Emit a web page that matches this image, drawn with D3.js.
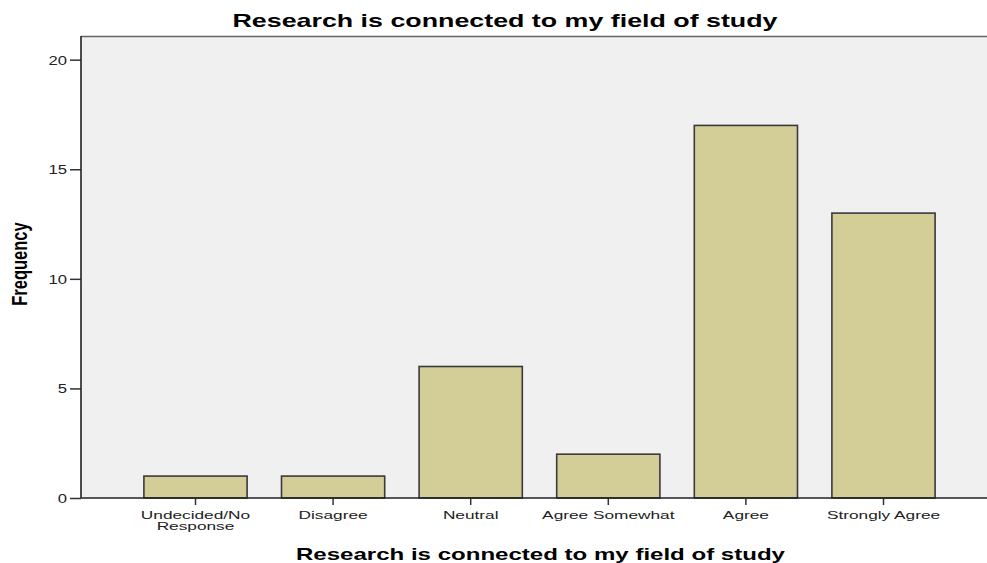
<!DOCTYPE html>
<html>
<head>
<meta charset="utf-8">
<script src="https://cdn.jsdelivr.net/npm/d3@7"></script>
<style>
  html, body { margin: 0; padding: 0; background: #ffffff; }
  svg { display: block; }
</style>
</head>
<body>
<svg id="chart" width="987" height="563"></svg>
<script>
const categories = ["Undecided/No Response", "Disagree", "Neutral", "Agree Somewhat", "Agree", "Strongly Agree"];
const categoryLines = [["Undecided/No", "Response"], ["Disagree"], ["Neutral"], ["Agree Somewhat"], ["Agree"], ["Strongly Agree"]];
const frequencies = [1, 1, 6, 2, 17, 13];
const yTicks = [0, 5, 10, 15, 20];
const chartTitle = "Research is connected to my field of study";
const xTitle = "Research is connected to my field of study";
const yTitle = "Frequency";

const W = 987, H = 563;
const plot = { left: 81, right: 998, top: 36, bottom: 498 };

const svg = d3.select("#chart");

const x = d3.scaleBand()
  .domain(categories)
  .range([126.7, 952.3])
  .paddingInner(0.25)
  .paddingOuter(0.125);

const y = d3.scaleLinear()
  .domain([0, 21.08])
  .range([plot.bottom, plot.top]);

// plot background
svg.append("rect")
  .attr("x", plot.left).attr("y", plot.top)
  .attr("width", plot.right - plot.left).attr("height", plot.bottom - plot.top)
  .attr("fill", "#f0f0f0");

// top frame line
svg.append("line")
  .attr("x1", plot.left).attr("x2", plot.right)
  .attr("y1", plot.top + 0.5).attr("y2", plot.top + 0.5)
  .attr("stroke", "#666").attr("stroke-width", 1.5);

// bars
svg.append("g").selectAll("rect")
  .data(categories)
  .join("rect")
  .attr("x", d => x(d))
  .attr("width", x.bandwidth())
  .attr("y", (d, i) => y(frequencies[i]))
  .attr("height", (d, i) => y(0) - y(frequencies[i]))
  .attr("fill", "#d3ce97")
  .attr("stroke", "#3a3a3a")
  .attr("stroke-width", 1.6);

function stretch(sel, factor) {
  sel.each(function () {
    const len = this.getComputedTextLength();
    d3.select(this).attr("textLength", len * factor).attr("lengthAdjust", "spacingAndGlyphs");
  });
}

// y axis
const yAxis = svg.append("g")
  .attr("transform", `translate(${plot.left},0)`)
  .call(d3.axisLeft(y).tickValues(yTicks).tickSize(11).tickPadding(3).tickFormat(d3.format("d")));
yAxis.select(".domain").remove();
yAxis.selectAll(".tick line").attr("stroke", "#333").attr("stroke-width", 1.5);
yAxis.selectAll(".tick text")
  .attr("font-family", "Liberation Sans, Arial, sans-serif")
  .attr("font-size", 12.5).attr("fill", "#222")
  .attr("dy", "0.36em");
stretch(yAxis.selectAll(".tick text"), 1.33);

svg.append("line")
  .attr("x1", plot.left).attr("x2", plot.left)
  .attr("y1", plot.top).attr("y2", plot.bottom)
  .attr("stroke", "#222").attr("stroke-width", 1.6);

// x axis
const xAxis = svg.append("g")
  .attr("transform", `translate(0,${plot.bottom})`)
  .call(d3.axisBottom(x).tickSize(7).tickFormat(""));
xAxis.select(".domain").remove();
xAxis.selectAll(".tick line").attr("stroke", "#333").attr("stroke-width", 1.5);

svg.append("line")
  .attr("x1", plot.left).attr("x2", plot.right)
  .attr("y1", plot.bottom).attr("y2", plot.bottom)
  .attr("stroke", "#222").attr("stroke-width", 1.6);

const labelG = svg.append("g");
categories.forEach((c, i) => {
  categoryLines[i].forEach((line, j) => {
    labelG.append("text")
      .attr("x", x(c) + x.bandwidth() / 2)
      .attr("y", 518.5 + j * 11.5)
      .attr("text-anchor", "middle")
      .attr("font-family", "Liberation Sans, Arial, sans-serif")
      .attr("font-size", 11.5)
      .attr("fill", "#222")
      .text(line);
  });
});
stretch(labelG.selectAll("text"), 1.5);

// chart title
const t1 = svg.append("text")
  .attr("x", 505).attr("y", 26.5)
  .attr("text-anchor", "middle")
  .attr("font-family", "Liberation Sans, Arial, sans-serif")
  .attr("font-weight", "bold")
  .attr("font-size", 18.5)
  .attr("fill", "#000")
  .text(chartTitle);
t1.attr("textLength", 545).attr("lengthAdjust", "spacingAndGlyphs");

// x title
const t2 = svg.append("text")
  .attr("x", (plot.left + plot.right) / 2 + 1).attr("y", 560)
  .attr("text-anchor", "middle")
  .attr("font-family", "Liberation Sans, Arial, sans-serif")
  .attr("font-weight", "bold")
  .attr("font-size", 17)
  .attr("fill", "#000")
  .text(xTitle);
t2.attr("textLength", 489).attr("lengthAdjust", "spacingAndGlyphs");

// y title
svg.append("text")
  .attr("transform", `translate(27,264) scale(1.35,1) rotate(-90)`)
  .attr("text-anchor", "middle")
  .attr("font-family", "Liberation Sans, Arial, sans-serif")
  .attr("font-weight", "bold")
  .attr("font-size", 16.5)
  .attr("fill", "#000")
  .text(yTitle);
</script>
</body>
</html>
